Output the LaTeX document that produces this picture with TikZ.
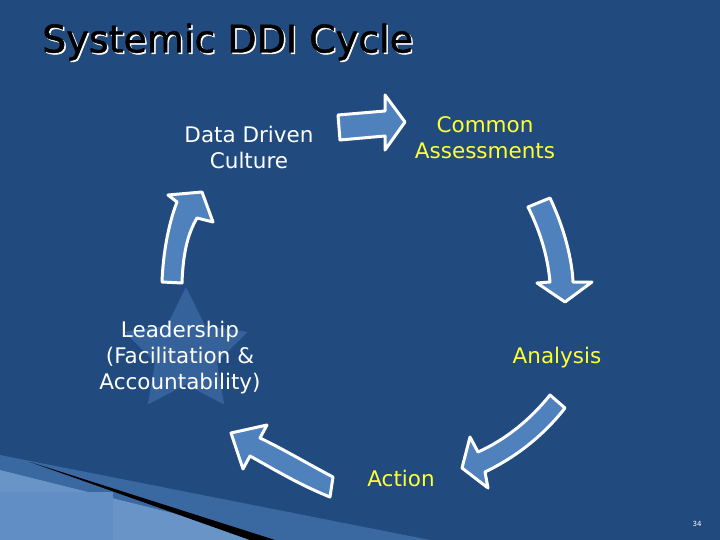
\documentclass[tikz,border=0pt]{standalone}
\usepackage{fontspec}
\setmainfont{DejaVu Sans}
\usetikzlibrary{shapes.geometric}
\definecolor{bg}{HTML}{214A7E}
\definecolor{af}{HTML}{4F81BD}
\definecolor{yel}{HTML}{FFFF33}
\tikzset{arr/.style={fill=af,draw=white,line width=3pt,line join=round},
 lbl/.style={font=\fontsize{21.5}{26}\selectfont,align=center,inner sep=0pt}}
\begin{document}
\begin{tikzpicture}[x=1pt,y=-1pt]
\fill[bg] (0,0) rectangle (720,540);
\useasboundingbox (0,0) rectangle (720,540);
% bottom-left decoration
\fill[af!55!bg] (0,455) -- (430,540) -- (0,540) -- cycle;
\fill[af!85!white] (0,470) -- (180,515) -- (250,540) -- (0,540) -- cycle;
\fill[black] (30,462) -- (275,540) -- (250,540) -- cycle;
\fill[af!90!white] (0,492) rectangle (113,540);
% star
\node[star,star points=5,star point ratio=2.0,minimum size=130pt,fill=af,fill opacity=0.45,draw=none] (star) at (186,352) {};
% arrows
\draw[arr] (338,115) -- (385,111) -- (385,95) -- (405,122) -- (385,150) -- (385,136) -- (340,140) -- cycle;
\draw[arr] (528,207) -- (550,198) .. controls (565,230) and (572,260) .. (573,282) -- (592,282) -- (565,302) -- (537,283) -- (550,282) .. controls (548,260) and (542,235) .. (528,207) -- cycle;
\draw[arr] (550,395) -- (565,408) .. controls (540,440) and (510,460) .. (485,472) -- (488,488) -- (462,468) -- (470,437) -- (478,452) .. controls (505,440) and (530,420) .. (550,395) -- cycle;
\draw[arr] (333,477) -- (330,497) .. controls (300,485) and (275,470) .. (250,456) -- (243,469) -- (231,433) -- (267,425) -- (260,438) .. controls (285,450) and (310,465) .. (333,477) -- cycle;
\draw[arr] (162,282) -- (182,283) .. controls (183,255) and (187,235) .. (197,218) -- (213,222) -- (202,192) -- (168,195) -- (177,202) .. controls (168,225) and (163,255) .. (162,282) -- cycle;
% texts
\node[font=\fontsize{38}{40}\selectfont\addfontfeature{FakeBold=1.2},white,anchor=west,inner sep=0pt] at (43.5,43.5) {Systemic DDI Cycle};
\node[font=\fontsize{38}{40}\selectfont\addfontfeature{FakeBold=1.2},black,anchor=west,inner sep=0pt] (title) at (42,42) {Systemic DDI Cycle};
\node[lbl,white] (ddc) at (249,147) {Data Driven\\Culture};
\node[lbl,yel] (ca) at (485,138) {Common\\Assessments};
\node[lbl,white] (lead) at (180,358) {Leadership\\(Facilitation \&\\Accountability)};
\node[lbl,yel] (an) at (557,358) {Analysis};
\node[lbl,yel] (act) at (401,478) {Action};
\node[font=\fontsize{7}{8}\selectfont,white] (pg) at (697,524) {34};
\end{tikzpicture}
\end{document}
